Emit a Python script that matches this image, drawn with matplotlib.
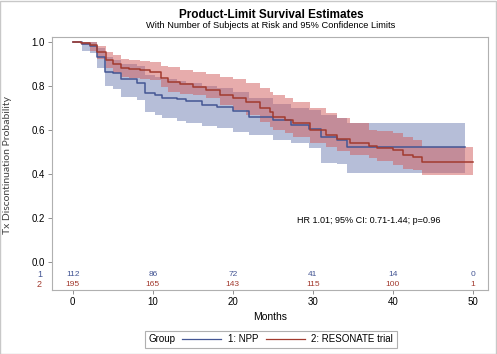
import numpy as np
import matplotlib
matplotlib.use('Agg')
import matplotlib.pyplot as plt
from matplotlib.lines import Line2D
from matplotlib.patches import Rectangle
from matplotlib.offsetbox import HPacker, TextArea, DrawingArea, AnchoredOffsetbox

plt.rcParams['font.family'] = ['Liberation Sans', 'DejaVu Sans']

# group 1: NPP  (step times in months, survival, lower / upper 95% CL)
npp_time = [0, 1.2, 2.2, 3.0, 4.0, 5.0, 6.0, 8.0, 9.0, 10.3, 11.1, 13.0, 14.2, 16.1,
            18.0, 20.0, 22.0, 25.0, 27.3, 29.5, 31.0, 33.0, 34.3, 49.0]
npp_surv = [1.0, 0.99, 0.982, 0.93, 0.865, 0.86, 0.83, 0.815, 0.77, 0.76, 0.745, 0.74,
            0.73, 0.715, 0.705, 0.685, 0.66, 0.645, 0.625, 0.605, 0.57, 0.555, 0.525, 0.525]
npp_lower = [1.0, 0.96, 0.95, 0.88, 0.80, 0.785, 0.75, 0.735, 0.68, 0.668, 0.655, 0.64,
             0.63, 0.62, 0.61, 0.59, 0.577, 0.555, 0.54, 0.52, 0.45, 0.445, 0.405, 0.405]
npp_upper = [1.0, 1.0, 1.0, 0.975, 0.93, 0.92, 0.90, 0.89, 0.85, 0.84, 0.83, 0.825,
             0.815, 0.80, 0.79, 0.775, 0.745, 0.72, 0.70, 0.69, 0.67, 0.655, 0.63, 0.63]

# group 2: RESONATE trial
res_time = [0, 1.0, 2.1, 3.0, 4.2, 5.0, 6.0, 7.0, 8.4, 9.6, 11.0, 11.9, 13.4, 15.0,
            16.7, 18.4, 20.0, 21.7, 23.4, 24.6, 25.0, 26.5, 27.5, 29.6, 31.7, 33.0,
            34.6, 37.0, 38.0, 40.0, 41.3, 42.5, 43.6, 50.0]
res_surv = [1.0, 0.995, 0.985, 0.955, 0.918, 0.90, 0.883, 0.878, 0.875, 0.865, 0.836,
            0.82, 0.81, 0.797, 0.782, 0.759, 0.745, 0.729, 0.70, 0.683, 0.66, 0.645,
            0.631, 0.60, 0.577, 0.56, 0.54, 0.529, 0.518, 0.509, 0.486, 0.479, 0.456, 0.456]
res_lower = [1.0, 0.985, 0.96, 0.925, 0.88, 0.86, 0.843, 0.835, 0.83, 0.827, 0.797,
             0.775, 0.765, 0.759, 0.745, 0.714, 0.69, 0.668, 0.638, 0.615, 0.60, 0.585,
             0.57, 0.54, 0.524, 0.505, 0.485, 0.475, 0.46, 0.441, 0.425, 0.418, 0.395, 0.395]
res_upper = [1.0, 1.0, 0.998, 0.98, 0.955, 0.94, 0.925, 0.918, 0.915, 0.91, 0.89,
             0.888, 0.875, 0.865, 0.855, 0.843, 0.83, 0.815, 0.79, 0.775, 0.76, 0.745,
             0.729, 0.70, 0.676, 0.655, 0.63, 0.60, 0.595, 0.586, 0.57, 0.555, 0.524, 0.524]

risk_times = [0, 10, 20, 30, 40, 50]
risk_npp = [112, 86, 72, 41, 14, 0]
risk_res = [195, 165, 143, 115, 100, 1]

blue = '#445694'
red = '#A23A2E'
blue_fill = '#6F7EB3'
red_fill = '#D05B5B'

fig = plt.figure(figsize=(4.97, 3.54), dpi=100)
ax = fig.add_axes([0.1046, 0.1808, 0.8772, 0.7147])

ax.fill_between(npp_time, npp_lower, npp_upper, step='post', color=blue_fill,
                alpha=0.5, linewidth=0)
ax.fill_between(res_time, res_lower, res_upper, step='post', color=red_fill,
                alpha=0.5, linewidth=0)
ax.step(npp_time, npp_surv, where='post', color=blue, lw=1.1)
ax.step(res_time, res_surv, where='post', color=red, lw=1.1)

ax.set_xlim(-2.6, 51.9)
ax.set_ylim(-0.127, 1.023)
ax.set_xticks(risk_times)
ax.set_yticks([0.0, 0.2, 0.4, 0.6, 0.8, 1.0])
ax.set_yticklabels(['0.0', '0.2', '0.4', '0.6', '0.8', '1.0'])
ax.tick_params(labelsize=7, length=3, width=0.6, color='#808080', pad=2)
for sp in ax.spines.values():
    sp.set_color('#B0B0B0')
    sp.set_linewidth(0.8)

ax.set_xlabel('Months', fontsize=7.5, labelpad=4)
ax.set_ylabel('Tx Discontinuation Probability', fontsize=7.5, color='#404040',
              family=['Lato', 'DejaVu Sans'])
ax.yaxis.set_label_coords(-0.092, 0.494)

# number at risk rows
for t, n1, n2 in zip(risk_times, risk_npp, risk_res):
    ax.text(t, -0.055, str(n1), color=blue, fontsize=6, ha='center', va='center')
    ax.text(t, -0.1, str(n2), color=red, fontsize=6, ha='center', va='center')
ax.text(-0.023, -0.055, '1', color=blue, fontsize=6.5, ha='right', va='center',
        transform=ax.get_yaxis_transform())
ax.text(-0.023, -0.1, '2', color=red, fontsize=6.5, ha='right', va='center',
        transform=ax.get_yaxis_transform())

ax.text(37, 0.19, 'HR 1.01; 95% CI: 0.71-1.44; p=0.96', fontsize=6.5,
        ha='center', va='center')

fig.text(0.545, 0.958, 'Product-Limit Survival Estimates', fontsize=8.5,
         fontweight='bold', ha='center', va='center')
fig.text(0.545, 0.927, 'With Number of Subjects at Risk and 95% Confidence Limits',
         fontsize=6.7, ha='center', va='center')


# legend: Group  ---- 1: NPP  ---- 2: RESONATE trial
def line_box(color):
    da = DrawingArea(32, 6, 0, 0)
    da.add_artist(Line2D([2, 30], [3, 3], color=color, lw=0.9))
    return da


tp = dict(fontsize=7)
items = [TextArea('Group', textprops=tp), line_box(blue), TextArea('1: NPP', textprops=tp),
         line_box(red), TextArea('2: RESONATE trial', textprops=tp)]
pack = HPacker(children=items, sep=3, pad=0, align='center')
legend_box = AnchoredOffsetbox(loc='center', child=pack, pad=0.25, borderpad=0,
                               frameon=True, bbox_to_anchor=(0.545, 0.041),
                               bbox_transform=fig.transFigure)
legend_box.patch.set_edgecolor('#B0B0B0')
legend_box.patch.set_linewidth(0.8)
fig.add_artist(legend_box)

fig.patches.append(Rectangle((0.001, 0.001), 0.997, 0.997, transform=fig.transFigure,
                             fill=False, edgecolor='#C8C8C8', lw=1))

fig.savefig('out.png', dpi=100)
